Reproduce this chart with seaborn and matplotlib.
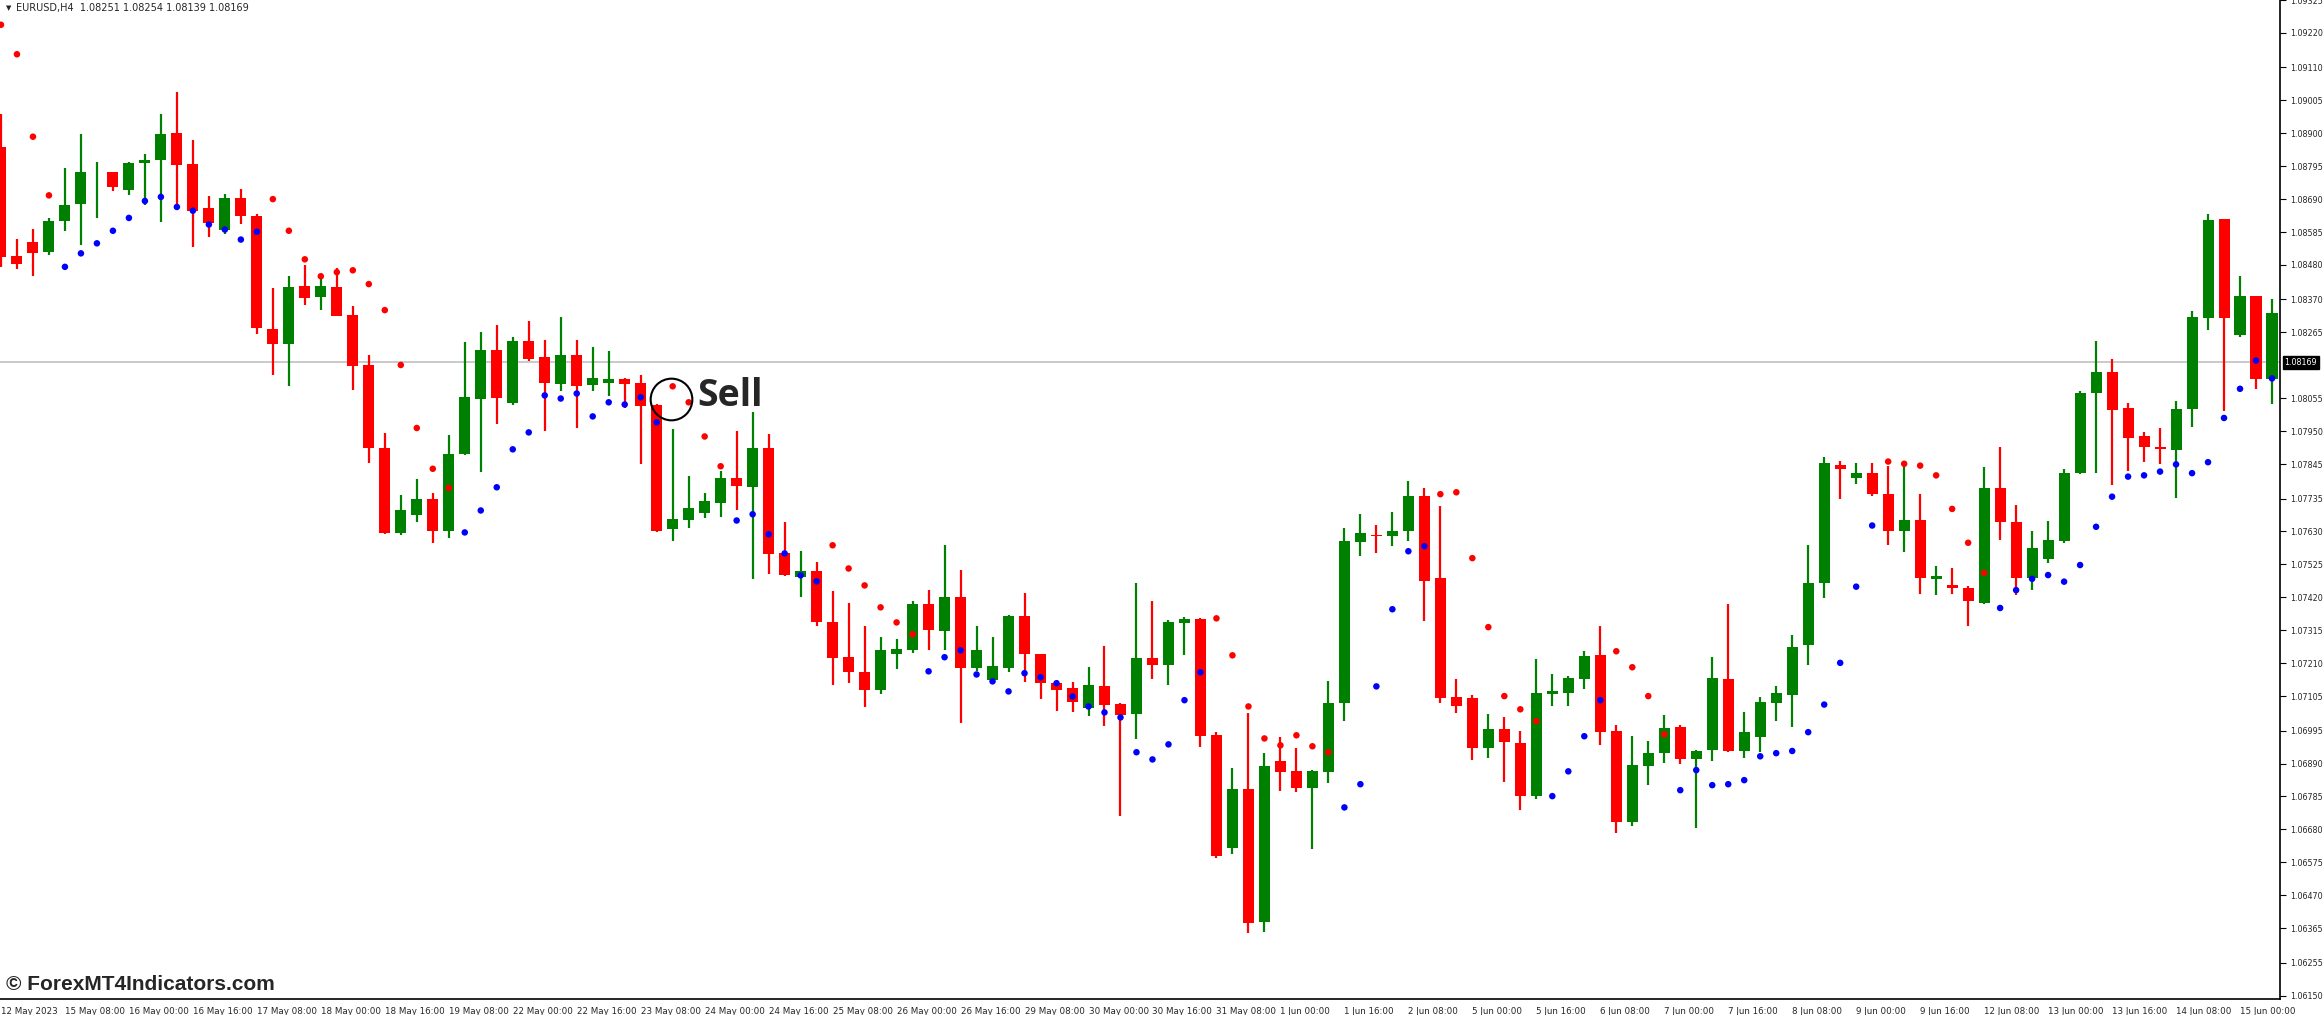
import matplotlib
matplotlib.use("Agg")
import matplotlib.pyplot as plt
import seaborn as sns
import pandas as pd
import numpy as np

opens = [1.08856,1.08508,1.08552,1.08520,1.08621,1.08673,1.08775,1.08777,1.08720,1.08804,
         1.08815,1.08900,1.08802,1.08663,1.08590,1.08694,1.08635,1.08276,1.08229,1.08413,
         1.08379,1.08410,1.08319,1.08161,1.07896,1.07624,1.07683,1.07735,1.07630,1.07877,
         1.08053,1.08209,1.08041,1.08237,1.08186,1.08101,1.08193,1.08098,1.08104,1.08116,
         1.08103,1.08032,1.07639,1.07668,1.07690,1.07722,1.07800,1.07773,1.07896,1.07561,
         1.07486,1.07504,1.07342,1.07229,1.07183,1.07126,1.07240,1.07253,1.07399,1.07314,
         1.07421,1.07196,1.07157,1.07196,1.07360,1.07239,1.07147,1.07130,1.07068,1.07137,
         1.07080,1.07049,1.07227,1.07205,1.07339,1.07350,1.06981,1.06619,1.06809,1.06386,
         1.06898,1.06866,1.06813,1.06864,1.07082,1.07598,1.07618,1.07617,1.07630,1.07743,
         1.07482,1.07102,1.07099,1.06938,1.07000,1.06956,1.06788,1.07113,1.07116,1.07161,
         1.07236,1.06994,1.06705,1.06883,1.06922,1.07007,1.06903,1.06934,1.07160,1.06931,
         1.06974,1.07084,1.07110,1.07267,1.07465,1.07843,1.07800,1.07818,1.07751,1.07630,
         1.07668,1.07479,1.07460,1.07450,1.07403,1.07770,1.07661,1.07483,1.07542,1.07599,
         1.07815,1.08072,1.08140,1.08023,1.07933,1.07901,1.07890,1.08020,1.08310,1.08627,
         1.08256,1.08382,1.08115]
highs = [1.08960,1.08562,1.08596,1.08630,1.08788,1.08897,1.08809,1.08777,1.08809,1.08833,
         1.08963,1.09032,1.08878,1.08700,1.08707,1.08723,1.08641,1.08407,1.08444,1.08481,
         1.08438,1.08470,1.08350,1.08192,1.07944,1.07745,1.07796,1.07754,1.07938,1.08234,
         1.08266,1.08288,1.08249,1.08301,1.08240,1.08314,1.08240,1.08218,1.08205,1.08119,
         1.08129,1.08038,1.07957,1.07807,1.07753,1.07823,1.07950,1.08011,1.07941,1.07661,
         1.07568,1.07532,1.07440,1.07403,1.07329,1.07293,1.07287,1.07408,1.07443,1.07587,
         1.07507,1.07329,1.07294,1.07364,1.07434,1.07239,1.07156,1.07150,1.07198,1.07265,
         1.07082,1.07465,1.07408,1.07348,1.07357,1.07354,1.06991,1.06876,1.07051,1.06924,
         1.06973,1.06940,1.06869,1.07153,1.07641,1.07686,1.07650,1.07692,1.07791,1.07769,
         1.07711,1.07160,1.07108,1.07048,1.07039,1.06994,1.07224,1.07176,1.07170,1.07250,
         1.07329,1.07012,1.06978,1.06962,1.07045,1.07013,1.06934,1.07230,1.07399,1.07055,
         1.07102,1.07137,1.07301,1.07588,1.07869,1.07856,1.07850,1.07850,1.07838,1.07844,
         1.07751,1.07521,1.07514,1.07457,1.07837,1.07901,1.07715,1.07633,1.07665,1.07830,
         1.08079,1.08236,1.08179,1.08041,1.07947,1.07961,1.08047,1.08334,1.08642,1.08627,
         1.08444,1.08382,1.08371]
lows = [1.08474,1.08466,1.08446,1.08511,1.08588,1.08543,1.08629,1.08715,1.08703,1.08670,
        1.08616,1.08670,1.08537,1.08568,1.08579,1.08610,1.08261,1.08129,1.08093,1.08353,
        1.08336,1.08316,1.08082,1.07847,1.07622,1.07619,1.07660,1.07594,1.07610,1.07874,
        1.07821,1.07974,1.08034,1.08175,1.07951,1.08079,1.07960,1.08079,1.08063,1.08025,
        1.07846,1.07629,1.07601,1.07642,1.07673,1.07677,1.07698,1.07480,1.07494,1.07488,
        1.07422,1.07329,1.07140,1.07148,1.07071,1.07113,1.07190,1.07244,1.07253,1.07253,
        1.07020,1.07186,1.07156,1.07183,1.07151,1.07097,1.07059,1.07055,1.07043,1.07011,
        1.06724,1.06969,1.07160,1.07142,1.07237,1.06944,1.06588,1.06603,1.06351,1.06354,
        1.06803,1.06800,1.06616,1.06827,1.07027,1.07553,1.07560,1.07584,1.07601,1.07345,
        1.07084,1.07052,1.06902,1.06909,1.06832,1.06743,1.06778,1.07075,1.07075,1.07129,
        1.06950,1.06670,1.06692,1.06823,1.06893,1.06887,1.06683,1.06899,1.06928,1.06909,
        1.06928,1.07027,1.07008,1.07205,1.07417,1.07733,1.07783,1.07742,1.07588,1.07564,
        1.07430,1.07427,1.07431,1.07327,1.07400,1.07602,1.07427,1.07444,1.07529,1.07593,
        1.07813,1.07818,1.07778,1.07824,1.07853,1.07844,1.07738,1.07963,1.08272,1.08014,
        1.08250,1.08085,1.08035]
closes = [1.08506,1.08483,1.08517,1.08619,1.08672,1.08777,1.08777,1.08730,1.08805,1.08814,
          1.08897,1.08800,1.08653,1.08613,1.08694,1.08636,1.08280,1.08229,1.08410,1.08376,
          1.08413,1.08316,1.08158,1.07896,1.07624,1.07698,1.07735,1.07630,1.07877,1.08058,
          1.08209,1.08057,1.08237,1.08181,1.08104,1.08193,1.08095,1.08121,1.08116,1.08101,
          1.08031,1.07633,1.07670,1.07705,1.07727,1.07800,1.07776,1.07896,1.07558,1.07491,
          1.07504,1.07342,1.07227,1.07183,1.07126,1.07252,1.07255,1.07399,1.07317,1.07421,
          1.07196,1.07252,1.07201,1.07360,1.07240,1.07148,1.07126,1.07087,1.07140,1.07078,
          1.07046,1.07227,1.07205,1.07341,1.07350,1.06978,1.06596,1.06809,1.06380,1.06882,
          1.06864,1.06813,1.06866,1.07083,1.07600,1.07624,1.07617,1.07632,1.07743,1.07473,
          1.07100,1.07072,1.06938,1.07000,1.06960,1.06788,1.07115,1.07122,1.07163,1.07233,
          1.06992,1.06705,1.06886,1.06924,1.07004,1.06903,1.06929,1.07163,1.06931,1.06991,
          1.07087,1.07114,1.07262,1.07466,1.07847,1.07829,1.07818,1.07750,1.07630,1.07667,
          1.07481,1.07489,1.07451,1.07407,1.07770,1.07659,1.07481,1.07576,1.07604,1.07818,
          1.08073,1.08140,1.08017,1.07929,1.07899,1.07894,1.08020,1.08314,1.08623,1.08310,
          1.08382,1.08115,1.08326]
psar = [1.09246,1.09152,1.08889,1.08702,1.08474,1.08517,1.08549,1.08589,1.08630,1.08684,
        1.08697,1.08665,1.08653,1.08609,1.08593,1.08561,1.08586,1.08690,1.08589,1.08498,
        1.08444,1.08457,1.08463,1.08419,1.08336,1.08161,1.07960,1.07830,1.07769,1.07627,
        1.07697,1.07771,1.07892,1.07946,1.08064,1.08054,1.08070,1.07997,1.08042,1.08035,
        1.08058,1.07978,1.08093,1.08042,1.07933,1.07838,1.07665,1.07685,1.07621,1.07560,
        1.07490,1.07471,1.07586,1.07512,1.07458,1.07388,1.07340,1.07302,1.07184,1.07229,
        1.07251,1.07174,1.07152,1.07120,1.07178,1.07165,1.07146,1.07104,1.07072,1.07053,
        1.07037,1.06926,1.06903,1.06951,1.07092,1.07181,1.07353,1.07235,1.07072,1.06970,
        1.06948,1.06980,1.06945,1.06926,1.06750,1.06824,1.07136,1.07382,1.07567,1.07583,
        1.07749,1.07755,1.07545,1.07325,1.07105,1.07063,1.07025,1.06786,1.06865,1.06977,
        1.07092,1.07248,1.07197,1.07105,1.06983,1.06805,1.06869,1.06821,1.06824,1.06837,
        1.06913,1.06923,1.06930,1.06990,1.07078,1.07211,1.07454,1.07649,1.07853,1.07846,
        1.07840,1.07809,1.07702,1.07594,1.07498,1.07386,1.07443,1.07479,1.07491,1.07470,
        1.07523,1.07645,1.07741,1.07805,1.07809,1.07821,1.07844,1.07816,1.07851,1.07992,
        1.08085,1.08175,1.08118]
side_runs = [("down", 4), ("up", 13), ("down", 12), ("up", 13), ("down", 4), ("up", 6),
             ("down", 6), ("up", 18), ("down", 8), ("up", 6), ("down", 7), ("up", 4),
             ("down", 4), ("up", 13), ("down", 7), ("up", 18)]
psar_side = [s for s, n in side_runs for _ in range(n)]

x_labels = ["12 May 2023", "15 May 08:00", "16 May 00:00", "16 May 16:00", "17 May 08:00",
            "18 May 00:00", "18 May 16:00", "19 May 08:00", "22 May 00:00", "22 May 16:00",
            "23 May 08:00", "24 May 00:00", "24 May 16:00", "25 May 08:00", "26 May 00:00",
            "26 May 16:00", "29 May 08:00", "30 May 00:00", "30 May 16:00", "31 May 08:00",
            "1 Jun 00:00", "1 Jun 16:00", "2 Jun 08:00", "5 Jun 00:00", "5 Jun 16:00",
            "6 Jun 08:00", "7 Jun 00:00", "7 Jun 16:00", "8 Jun 08:00", "9 Jun 00:00",
            "9 Jun 16:00", "12 Jun 08:00", "13 Jun 00:00", "13 Jun 16:00", "14 Jun 08:00",
            "15 Jun 00:00"]
y_labels = ["1.06150", "1.06255", "1.06365", "1.06470", "1.06575", "1.06680", "1.06785",
            "1.06890", "1.06995", "1.07105", "1.07210", "1.07315", "1.07420", "1.07525",
            "1.07630", "1.07735", "1.07845", "1.07950", "1.08055", "1.08265", "1.08370",
            "1.08480", "1.08585", "1.08690", "1.08795", "1.08900", "1.09005", "1.09110",
            "1.09220", "1.09325"]
current_price = 1.08169
title = "EURUSD,H4  1.08251 1.08254 1.08139 1.08169"

n = len(opens)
df = pd.DataFrame({"bar": np.arange(n), "open": opens, "high": highs, "low": lows,
                   "close": closes})
df["up"] = df["close"] >= df["open"]
ps = pd.DataFrame({"bar": np.arange(n), "psar": psar, "side": psar_side})

W, H = 2323, 1015
fig = plt.figure(figsize=(W / 100, H / 100), dpi=100)
sns.set_style("white")
ax = fig.add_axes([0, 16 / H, 2280 / W, 999 / H])
GREEN, RED = "#008000", "#FF0000"

ax.axhline(current_price, color="#C0C0C0", lw=1.2, zorder=1)
cols = np.where(df["up"], GREEN, RED)
ax.vlines(df["bar"], df["low"], df["high"], colors=cols, lw=1.6, zorder=2)
body_lo = np.minimum(df["open"], df["close"])
body_h = np.maximum(np.abs(df["close"] - df["open"]), 0.00003)
ax.bar(df["bar"], body_h, bottom=body_lo, width=0.69, color=cols, linewidth=0, zorder=3)
sns.scatterplot(data=ps, x="bar", y="psar", hue="side",
                palette={"up": "#0000FF", "down": "#FF0000"}, s=22, linewidth=0,
                legend=False, ax=ax, zorder=4)

ax.set_xlim(-0.06, 142.5)
ax.set_ylim(1.06139, 1.09325)
ax.set_xlabel("")
ax.set_ylabel("")
for s in ["left", "top"]:
    ax.spines[s].set_visible(False)
for s in ["right", "bottom"]:
    ax.spines[s].set_color("black")
    ax.spines[s].set_linewidth(1.2)

ax.yaxis.tick_right()
ax.set_yticks([float(v) for v in y_labels])
ax.set_yticklabels(y_labels, fontsize=5.8)
ax.set_xticks(np.arange(len(x_labels)) * 4)
ax.set_xticklabels(x_labels, fontsize=6.3, ha="left")
ax.tick_params(axis="both", length=4, width=0.8, color="black", pad=2)
ax.tick_params(axis="y", pad=3)

ax.text(1.002, current_price, "1.08169", transform=ax.get_yaxis_transform(),
        fontsize=5.8, color="white", va="center", ha="left",
        bbox=dict(boxstyle="square,pad=0.2", fc="black", ec="black"), zorder=6,
        clip_on=False)

fig.text(6 / W, 1 - 8 / H, "\u25BC", fontsize=5, va="center", ha="left")
fig.text(16 / W, 1 - 8 / H, title, fontsize=7, va="center", ha="left")

ax.plot([41.9], [1.08053], marker="o", ms=30, mfc="none", mec="black", mew=1.5, zorder=7)
fig.text(697 / W, 1 - 406 / H, "Sell", fontsize=27, fontweight="bold",
         family=["Open Sans", "DejaVu Sans"], va="baseline", ha="left")
fig.text(6 / W, 1 - 985 / H, "\u00A9 ForexMT4Indicators.com", fontsize=15,
         fontweight="bold", family=["Liberation Sans Narrow", "Liberation Sans", "DejaVu Sans"],
         va="center", ha="left")

fig.savefig("out.png", dpi=100, facecolor="white")
